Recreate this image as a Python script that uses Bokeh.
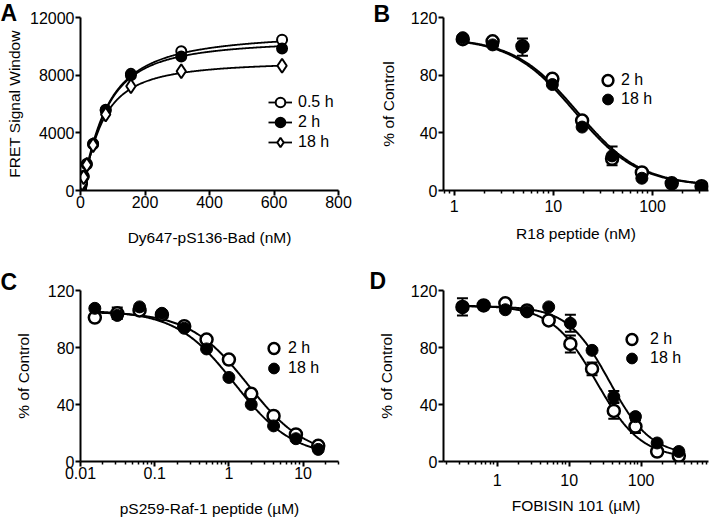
import numpy as np
from bokeh.plotting import figure
from bokeh.models import (Range1d, FixedTicker, Legend, LegendItem, Title,
                          Whisker, ColumnDataSource, TeeHead)
from bokeh.layouts import gridplot
from bokeh.embed import file_html
from bokeh.resources import INLINE

FONT = "Liberation Sans"
TICK_FS = "16px"
TITLE_FS = "15.5px"

# ---------------- Panel A data ----------------
a_conc = [0, 1.22, 2.44, 4.88, 9.77, 19.5, 39.1, 78.1, 156.3, 312.5, 625]
a_05h = [0, 140, 280, 540, 1000, 1850, 3240, 5550, 8090, 9660, 10450]
a_2h = [0, 130, 260, 510, 960, 1800, 3200, 5600, 8000, 9290, 9850]
a_18h = [0, 120, 250, 490, 920, 1780, 3150, 5270, 7230, 8270, 8650]
a_labels = ["0.5 h", "2 h", "18 h"]
a_bmax = [11000, 10500, 9000]
a_kd = [75, 72, 62]
a_hill = [1.3, 1.4, 1.4]
a_xticks = [0, 200, 400, 600, 800]
a_yticks = [0, 4000, 8000, 12000]

# ---------------- Panel B data ----------------
b_conc = [1.22, 2.44, 4.88, 9.77, 19.5, 39.1, 78.1, 156.3, 312.5]
b_2h = [105, 103.5, 100, 77.5, 48.5, 22, 12.5, 5, 3]
b_2h_err = [0, 0, 0, 0, 0, 0, 0, 0, 0]
b_18h = [106, 101, 99.5, 73.5, 44, 24, 8.5, 5, 2.5]
b_18h_err = [0, 0, 6, 0, 0, 6.5, 0, 0, 0]
b_fit_2h = [106, 3, 17.5, 1.35]    # top, bottom, IC50, Hill
b_fit_18h = [106, 3, 16.5, 1.35]
b_xticks = [1, 10, 100]
b_xtick_labels = ["1", "10", "100"]

# ---------------- Panel C data ----------------
c_conc = [0.0156, 0.0313, 0.0625, 0.125, 0.25, 0.5, 1, 2, 4, 8, 16]
c_2h = [101, 104, 106, 103, 95, 85.6, 71.5, 47.5, 32, 19, 11]
c_2h_err = [0, 4, 0, 0, 2, 0, 0, 0, 0, 0, 0]
c_18h = [107.5, 102.5, 108.5, 104, 93.5, 79, 59, 40, 25, 16, 8.5]
c_18h_err = [0, 0, 0, 0, 0, 0, 0, 0, 0, 0, 0]
c_fit_2h = [105, 3, 1.8, 1.1]
c_fit_18h = [106, 3, 1.2, 1.1]
c_xticks = [0.01, 0.1, 1, 10]
c_xtick_labels = ["0.01", "0.1", "1", "10"]

# ---------------- Panel D data ----------------
d_conc = [0.33, 0.65, 1.3, 2.6, 5.2, 10.4, 20.8, 41.7, 83.3, 166.7, 333.3]
d_2h = [108.5, 109.5, 111, 106, 99, 82.5, 65, 35.5, 24.5, 7, 4]
d_2h_err = [6, 0, 0, 0, 0, 6, 4.5, 5.5, 4.5, 0, 0]
d_18h = [108, 109.5, 106.5, 105, 108.5, 97, 78, 45.5, 31.5, 13, 7]
d_18h_err = [0, 0, 0, 0, 0, 6, 0, 4, 0, 0, 0]
d_fit_2h = [109.5, 2, 24, 1.4]
d_fit_18h = [109, 4, 36, 1.5]
d_xticks = [1, 10, 100]
d_xtick_labels = ["1", "10", "100"]

pct_yticks = [0, 40, 80, 120]
series_labels = ["2 h", "18 h"]


def four_pl(x, top, bottom, ic50, hill):
    return bottom + (top - bottom) / (1.0 + (x / ic50) ** hill)


def binding(x, bmax, kd, hill):
    return bmax * x ** hill / (kd ** hill + x ** hill)


def log_minor(lo, hi):
    out = []
    for k in range(int(np.floor(np.log10(lo))), int(np.ceil(np.log10(hi))) + 1):
        for m in range(2, 10):
            v = m * 10.0 ** k
            if lo <= v <= hi:
                out.append(v)
    return out


def make_fig(w, h, borders, xtype, xr, yr):
    left, right, top, bottom = borders
    p = figure(width=w, height=h, x_axis_type=xtype,
               x_range=Range1d(*xr), y_range=Range1d(*yr),
               output_backend="svg", toolbar_location=None,
               min_border_left=left, min_border_right=right,
               min_border_top=top, min_border_bottom=bottom)
    p.grid.visible = False
    p.outline_line_color = None
    p.background_fill_color = "white"
    p.border_fill_color = "white"
    for ax in (p.xaxis[0], p.yaxis[0]):
        ax.axis_line_width = 2
        ax.axis_line_color = "black"
        ax.major_tick_line_width = 2
        ax.major_tick_line_color = "black"
        ax.major_tick_out = 5
        ax.major_tick_in = 0
        ax.minor_tick_line_width = 1.5
        ax.minor_tick_line_color = "black"
        ax.minor_tick_out = 3
        ax.minor_tick_in = 0
        ax.major_label_text_font = FONT
        ax.major_label_text_font_size = TICK_FS
        ax.major_label_text_color = "black"
        ax.axis_label_text_font = FONT
        ax.axis_label_text_font_size = TITLE_FS
        ax.axis_label_text_font_style = "normal"
        ax.axis_label_text_color = "black"
    return p


def set_axes(p, xticks, xminor, xlabels, yticks, xtitle, ytitle,
             xs1, xs2, ys1, ys2):
    p.xaxis[0].ticker = FixedTicker(ticks=xticks, minor_ticks=xminor)
    if xlabels is not None:
        p.xaxis[0].major_label_overrides = {t: l for t, l in zip(xticks, xlabels)}
    p.yaxis[0].ticker = FixedTicker(ticks=yticks, minor_ticks=[])
    p.xaxis[0].axis_label = xtitle
    p.yaxis[0].axis_label = ytitle
    p.xaxis[0].major_label_standoff = xs1
    p.xaxis[0].axis_label_standoff = xs2
    p.yaxis[0].major_label_standoff = ys1
    p.yaxis[0].axis_label_standoff = ys2


def panel_letter(p, text, offset, standoff):
    # the panel letter is the figure title, pulled left of the frame
    p.title = Title(text=text, align="left", vertical_align="bottom",
                    offset=offset, standoff=standoff,
                    text_font=FONT, text_font_size="23px",
                    text_font_style="bold", text_color="black")


def add_errors(p, xs, ys, errs):
    base, up, lo = [], [], []
    for x, y, e in zip(xs, ys, errs):
        if e > 0:
            base.append(x)
            up.append(y + e)
            lo.append(y - e)
    if not base:
        return
    src = ColumnDataSource(dict(base=base, upper=up, lower=lo))
    p.add_layout(Whisker(source=src, base="base", upper="upper", lower="lower",
                         dimension="height", line_width=2, line_color="black",
                         upper_head=TeeHead(size=11, line_width=2, line_color="black"),
                         lower_head=TeeHead(size=11, line_width=2, line_color="black")))


def legend_rows(p, items, x, ys, gw, gh, standoff):
    # one single-row legend per entry, so that rows can sit closer than the glyph box
    for it, y in zip(items, ys):
        lg = Legend(items=[it], location=(x, y), orientation="vertical",
                    glyph_width=gw, glyph_height=gh, label_height=gh,
                    spacing=0, label_standoff=standoff, padding=0, margin=0,
                    border_line_color=None, background_fill_alpha=0,
                    label_text_font=FONT, label_text_font_size="16px",
                    label_text_color="black")
        p.add_layout(lg)


# ================= Panel A =================
pA = make_fig(356, 260, (80, 18, 17, 70), "linear", (0, 800), (0, 12000))
set_axes(pA, a_xticks, [], None, a_yticks, "Dy647-pS136-Bad (nM)",
         "FRET Signal Window", 0, 18, 1, 4)
xa = np.linspace(0, max(a_conc), 300)
a_data = [a_05h, a_2h, a_18h]
a_markers = [("circle", "white", 10), ("circle", "black", 10), ("diamond", "white", 14)]
a_items = []
for i in range(3):
    ln = pA.line(xa, binding(xa, a_bmax[i], a_kd[i], a_hill[i]),
                 line_color="black", line_width=1.8)
    mk, fc, sz = a_markers[i]
    sc = pA.scatter(a_conc, a_data[i], marker=mk, size=sz, fill_color=fc,
                    line_color="black", line_width=2)
    a_items.append(LegendItem(label=a_labels[i], renderers=[ln, sc]))
legend_rows(pA, a_items, 188, [76, 56, 36], 24, 24, 6)
panel_letter(pA, "A", -80, -16)

# ================= Panel B =================
b_xr = (0.78, 367)
pB = make_fig(355, 260, (78, 3, 15, 70), "log", b_xr, (0, 120))
set_axes(pB, b_xticks, log_minor(*b_xr), b_xtick_labels, pct_yticks,
         "R18 peptide (nM)", "% of Control", 4, 10, 1, 11)

# ================= Panel C =================
c_xr = (0.01, 30)
pC = make_fig(356, 260, (80, 9, 24, 59), "log", c_xr, (0, 120))
set_axes(pC, c_xticks, log_minor(*c_xr), c_xtick_labels, pct_yticks,
         "pS259-Raf-1 peptide (\u00b5M)", "% of Control", 0, 18, 1, 13)

# ================= Panel D =================
d_xr = (0.18, 861)
pD = make_fig(355, 260, (87, 3, 30, 56), "log", d_xr, (0, 120))
set_axes(pD, d_xticks, log_minor(*d_xr), d_xtick_labels, pct_yticks,
         "FOBISIN 101 (\u00b5M)", "% of Control", 7, 8, 1, 13)


def dose_panel(p, conc, y2, e2, y18, e18, f2, f18):
    xs = np.logspace(np.log10(min(conc)), np.log10(max(conc)), 300)
    p.line(xs, four_pl(xs, *f2), line_color="black", line_width=2)
    p.line(xs, four_pl(xs, *f18), line_color="black", line_width=2)
    add_errors(p, conc, y2, e2)
    add_errors(p, conc, y18, e18)
    s2 = p.scatter(conc, y2, marker="circle", size=12, fill_color="white",
                   line_color="black", line_width=2.5)
    s18 = p.scatter(conc, y18, marker="circle", size=12, fill_color="black",
                    line_color="black", line_width=1)
    return [LegendItem(label=series_labels[0], renderers=[s2]),
            LegendItem(label=series_labels[1], renderers=[s18])]


itB = dose_panel(pB, b_conc, b_2h, b_2h_err, b_18h, b_18h_err, b_fit_2h, b_fit_18h)
legend_rows(pB, itB, 151, [95, 76], 27, 30, 0)
panel_letter(pB, "B", -70, -18)

itC = dose_panel(pC, c_conc, c_2h, c_2h_err, c_18h, c_18h_err, c_fit_2h, c_fit_18h)
legend_rows(pC, itC, 180, [98, 78], 27, 30, 1)
panel_letter(pC, "C", -80, -8)

itD = dose_panel(pD, d_conc, d_2h, d_2h_err, d_18h, d_18h_err, d_fit_2h, d_fit_18h)
legend_rows(pD, itD, 175, [107, 88], 27, 30, 5)
panel_letter(pD, "D", -74, -6)

grid = gridplot([[pA, pB], [pC, pD]], toolbar_location=None)

with open("out.html", "w") as f:
    f.write(file_html(grid, INLINE, title="FRET assay panels"))
